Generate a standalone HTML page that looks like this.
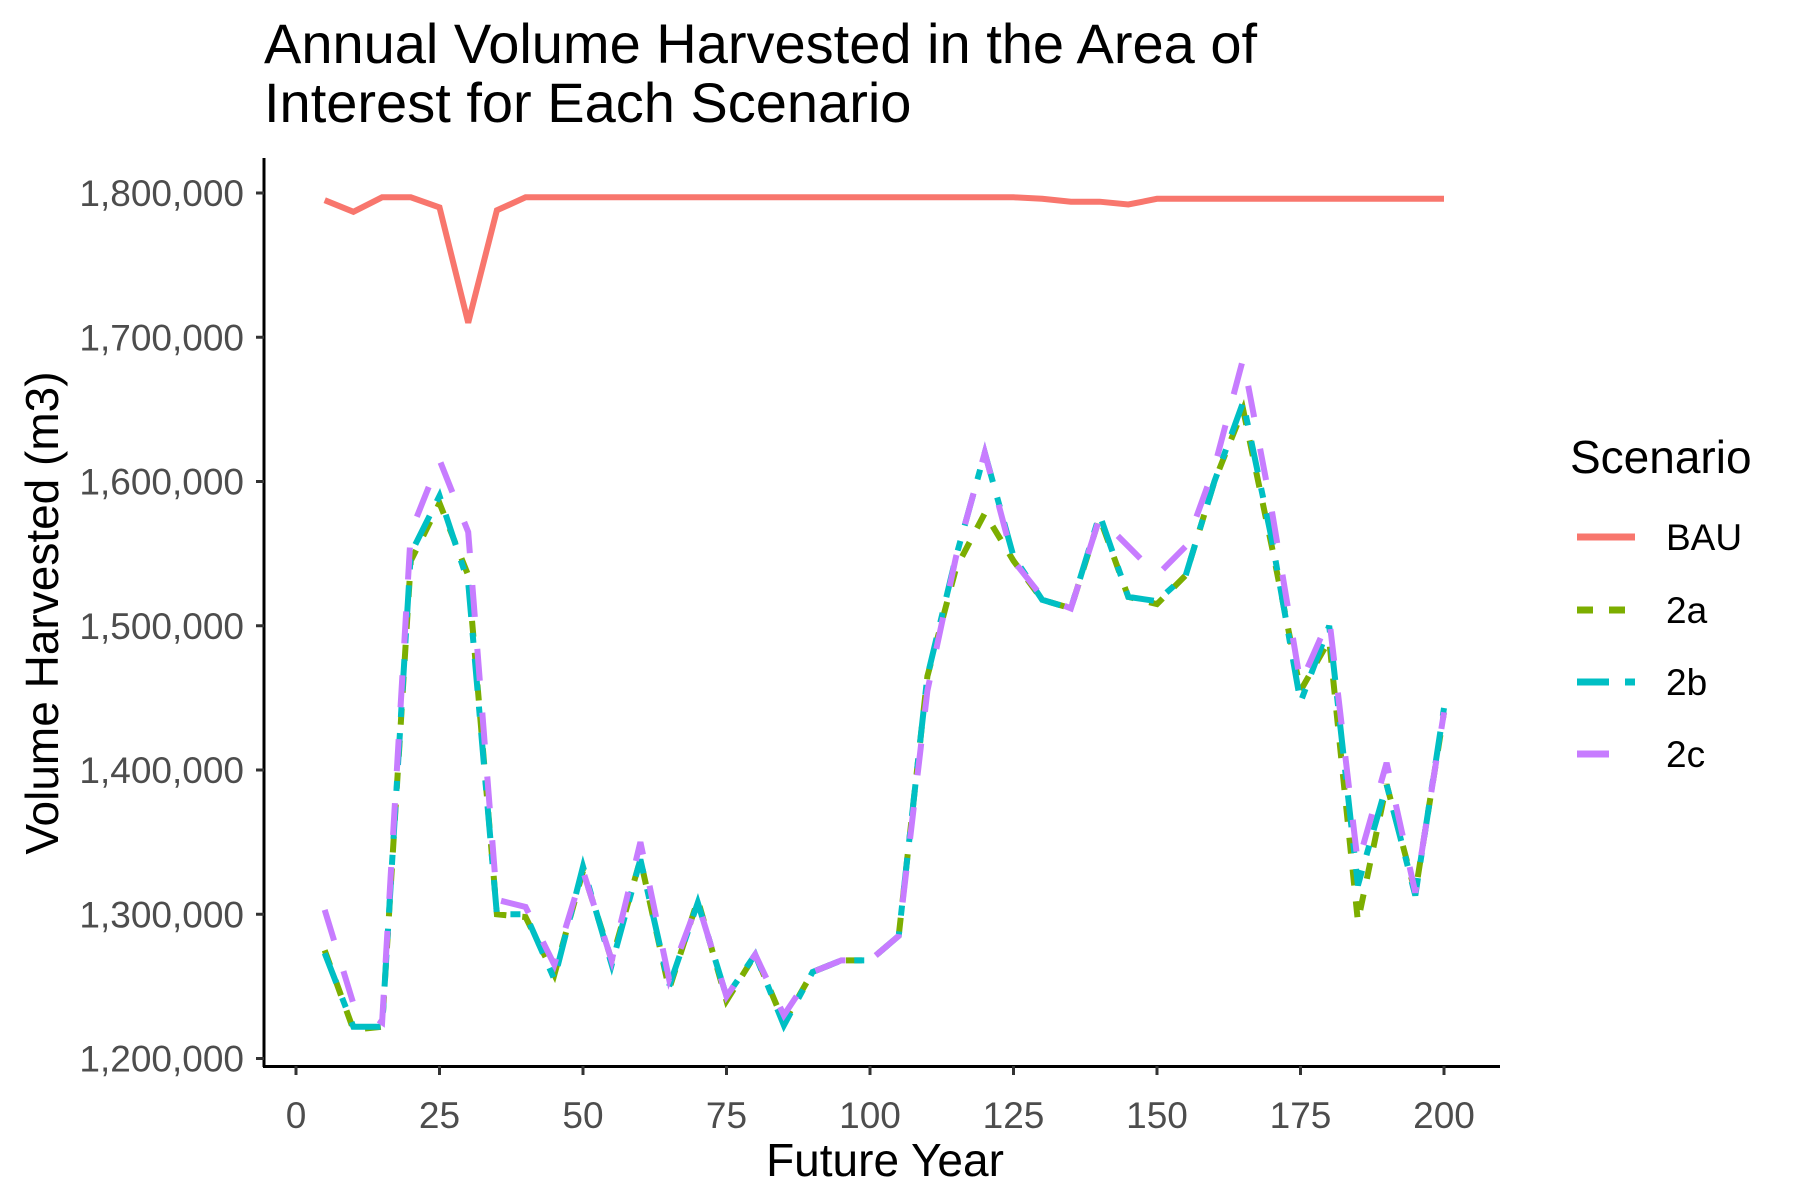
<!DOCTYPE html>
<html><head><meta charset="utf-8"><style>
html,body{margin:0;padding:0;background:#fff;}
svg{display:block;font-family:"Liberation Sans",Arial,sans-serif;}
</style></head><body>
<svg id="chart" width="1800" height="1200" viewBox="0 0 1800 1200">
<text x="264" y="63" font-size="56" fill="#000">Annual Volume Harvested in the Area of</text>
<text x="264" y="122" font-size="56" fill="#000">Interest for Each Scenario</text>
<g id="plot"></g>
<line x1="264" y1="158" x2="264" y2="1067" stroke="#000" stroke-width="3"/>
<line x1="263" y1="1066.5" x2="1500" y2="1066.5" stroke="#000" stroke-width="3"/>
<g id="yticks"></g>
<g id="xticks"></g>
<text x="885" y="1176" font-size="46" text-anchor="middle" fill="#000">Future Year</text>
<text transform="translate(58,613) rotate(-90)" font-size="46" text-anchor="middle" fill="#000">Volume Harvested (m3)</text>
<g>
<text x="1570" y="473" font-size="46" fill="#000">Scenario</text>
<g id="legend-items"></g>
</g>
</svg>
<script>
const years = [5,10,15,20,25,30,35,40,45,50,55,60,65,70,75,80,85,90,95,100,105,110,115,120,125,130,135,140,145,150,155,160,165,170,175,180,185,190,195,200];
const seriesNames = ["BAU","2a","2b","2c"];
const bau = [1795000,1787000,1797000,1797000,1790000,1710000,1788000,1797000,1797000,1797000,1797000,1797000,1797000,1797000,1797000,1797000,1797000,1797000,1797000,1797000,1797000,1797000,1797000,1797000,1797000,1796000,1794000,1794000,1792000,1796000,1796000,1796000,1796000,1796000,1796000,1796000,1796000,1796000,1796000,1796000];
const s2a = [1275000,1220000,1222000,1545000,1585000,1535000,1300000,1298000,1258000,1330000,1268000,1338000,1248000,1310000,1240000,1272000,1225000,1260000,1268000,1268000,1285000,1465000,1540000,1578000,1545000,1518000,1512000,1575000,1520000,1515000,1535000,1600000,1650000,1555000,1455000,1490000,1295000,1390000,1315000,1440000];
const s2b = [1273000,1222000,1222000,1550000,1590000,1530000,1300000,1300000,1255000,1333000,1265000,1338000,1250000,1308000,1243000,1272000,1223000,1260000,1268000,1268000,1285000,1465000,1548000,1620000,1548000,1518000,1512000,1577000,1520000,1517000,1535000,1600000,1655000,1560000,1447000,1500000,1320000,1390000,1313000,1443000];
const s2c = [1303000,1238000,1225000,1565000,1615000,1565000,1310000,1305000,1265000,1330000,1268000,1350000,1255000,1308000,1243000,1272000,1230000,1260000,1268000,1268000,1285000,1455000,1548000,1620000,1545000,1520000,1512000,1575000,1555000,1535000,1555000,1610000,1685000,1580000,1460000,1505000,1335000,1405000,1315000,1440000];
const yTicks = [1200000,1300000,1400000,1500000,1600000,1700000,1800000];
const xTicks = [0,25,50,75,100,125,150,175,200];

const NS = "http://www.w3.org/2000/svg";
function xs(t){ return 296 + t*(1148/200); }
function ys(v){ return 1058.5 - (v-1200000)/600000*865.5; }
function fmt(v){ return v.toString().replace(/\B(?=(\d{3})+(?!\d))/g, ","); }

const styles = {
  "BAU": {color:"#F8766D", dash:""},
  "2a": {color:"#7CAE00", dash:"16 16"},
  "2b": {color:"#00BFC4", dash:"32 16 10 16"},
  "2c": {color:"#C77CFF", dash:"32 32"}
};
const data = {"BAU":bau,"2a":s2a,"2b":s2b,"2c":s2c};

const plot = document.getElementById("plot");
seriesNames.forEach(function(name){
  const vals = data[name];
  const d = vals.map(function(v,i){ return (i?"L":"M")+xs(years[i]).toFixed(1)+","+ys(v).toFixed(1); }).join(" ");
  const p = document.createElementNS(NS,"path");
  p.setAttribute("d", d);
  p.setAttribute("fill","none");
  p.setAttribute("stroke", styles[name].color);
  p.setAttribute("stroke-width","6");
  if (styles[name].dash) p.setAttribute("stroke-dasharray", styles[name].dash);
  
  
  plot.appendChild(p);
});

const yg = document.getElementById("yticks");
yTicks.forEach(function(v){
  const y = ys(v);
  const l = document.createElementNS(NS,"line");
  l.setAttribute("x1","256"); l.setAttribute("x2","264");
  l.setAttribute("y1",y); l.setAttribute("y2",y);
  l.setAttribute("stroke","#333"); l.setAttribute("stroke-width","3");
  
  
  yg.appendChild(l);
  const t = document.createElementNS(NS,"text");
  t.setAttribute("x","244"); t.setAttribute("y", y+13);
  t.setAttribute("text-anchor","end"); t.setAttribute("font-size","37"); t.setAttribute("fill","#4D4D4D");
  t.textContent = fmt(v);
  
  
  yg.appendChild(t);
});
const xg = document.getElementById("xticks");
xTicks.forEach(function(v){
  const x = xs(v);
  const l = document.createElementNS(NS,"line");
  l.setAttribute("x1",x); l.setAttribute("x2",x);
  l.setAttribute("y1","1066"); l.setAttribute("y2","1075");
  l.setAttribute("stroke","#333"); l.setAttribute("stroke-width","3");
  
  
  xg.appendChild(l);
  const t = document.createElementNS(NS,"text");
  t.setAttribute("x",x); t.setAttribute("y","1128");
  t.setAttribute("text-anchor","middle"); t.setAttribute("font-size","37"); t.setAttribute("fill","#4D4D4D");
  t.textContent = v;
  
  
  xg.appendChild(t);
});

const lg = document.getElementById("legend-items");
const legendY = [537,610,682,754];
seriesNames.forEach(function(name,i){
  const y = legendY[i];
  const l = document.createElementNS(NS,"line");
  l.setAttribute("x1","1577"); l.setAttribute("x2","1635");
  l.setAttribute("y1",y); l.setAttribute("y2",y);
  l.setAttribute("stroke", styles[name].color); l.setAttribute("stroke-width","7");
  if (styles[name].dash) l.setAttribute("stroke-dasharray", styles[name].dash);
  
  
  lg.appendChild(l);
  const t = document.createElementNS(NS,"text");
  t.setAttribute("x","1666"); t.setAttribute("y", y+13);
  t.setAttribute("font-size","37"); t.setAttribute("fill","#000");
  t.textContent = name;
  
  
  lg.appendChild(t);
});
</script>
</body></html>
